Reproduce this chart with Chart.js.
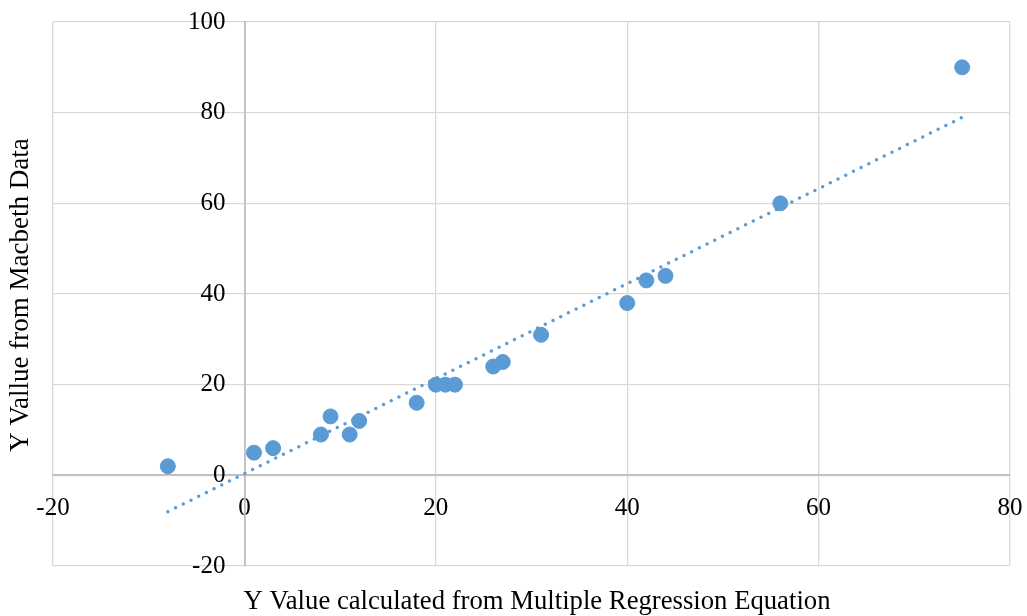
<!DOCTYPE html>
<html>
<head>
<meta charset="utf-8">
<script src="https://cdn.jsdelivr.net/npm/chart.js@4/dist/chart.umd.min.js"></script>
<style>
  body { margin: 0; background: #fff; }
  canvas { display: block; }
</style>
</head>
<body>
<canvas id="myChart" width="1027" height="616"></canvas>
<script>
// values
const calcX = [-8, 1, 3, 8, 9, 11, 12, 18, 20, 21, 22, 26, 27, 31, 40, 42, 44, 56, 75];
const macbethY = [2, 5, 6, 9, 13, 9, 12, 16, 20, 20, 20, 24, 25, 31, 38, 43, 44, 60, 90];
const xTicks = [-20, 0, 20, 40, 60, 80];
const yTicks = [-20, 0, 20, 40, 60, 80, 100];
const xTitle = 'Y Value calculated from Multiple Regression Equation';
const yTitle = 'Y Vallue from Macbeth Data';

const blue = '#5b9bd5';
const serif = "'Liberation Serif', 'DejaVu Serif', serif";

// linear trendline (least squares), like the spreadsheet does
const n = calcX.length;
const mx = calcX.reduce((a, b) => a + b, 0) / n;
const my = macbethY.reduce((a, b) => a + b, 0) / n;
let sxy = 0, sxx = 0;
for (let i = 0; i < n; i++) {
  sxy += (calcX[i] - mx) * (macbethY[i] - my);
  sxx += (calcX[i] - mx) * (calcX[i] - mx);
}
const slope = sxy / sxx;
const icpt = my - slope * mx;
const xMin = Math.min(...calcX), xMax = Math.max(...calcX);
const trend = [xMin, xMax].map(x => ({x: x, y: slope * x + icpt}));

const points = calcX.map((x, i) => ({x: x, y: macbethY[i]}));

// keep tick labels from pushing the plot area around
const noPad = s => { s.paddingLeft = s.paddingRight = s.paddingTop = s.paddingBottom = 0; };

const titlePlugin = {
  id: 'axisTitles',
  beforeDraw(chart) {
    // y labels sit left of the x=0 axis, not on it
    const items = chart.scales.y.getLabelItems();
    if (!chart.$shifted) {
      items.forEach(it => { it.options.translation[0] -= 19; });
      chart.$shifted = true;
    }
  },
  afterDraw(chart) {
    const c = chart.ctx;
    c.save();
    c.fillStyle = '#000';
    c.textAlign = 'center';
    c.textBaseline = 'middle';
    c.font = '26.7px ' + serif;
    c.fillText(xTitle, 537, 602);
    c.font = '27px ' + serif;
    c.translate(21, 295);
    c.rotate(-Math.PI / 2);
    c.fillText(yTitle, 0, 0);
    c.restore();
  }
};

const ctx = document.getElementById('myChart').getContext('2d');
new Chart(ctx, {
  type: 'scatter',
  data: {
    datasets: [{
      label: 'Macbeth',
      data: points,
      backgroundColor: blue,
      borderColor: blue,
      pointRadius: 7.5,
      pointHoverRadius: 7.5,
      order: 1
    }, {
      label: 'Trend',
      type: 'line',
      data: trend,
      borderColor: blue,
      borderWidth: 3.5,
      borderDash: [0, 8.6],
      borderCapStyle: 'round',
      pointRadius: 0,
      fill: false,
      order: 2
    }]
  },
  options: {
    responsive: false,
    animation: false,
    events: [],
    layout: { padding: { left: 53, top: 22, right: 17, bottom: 50 } },
    plugins: {
      legend: { display: false },
      tooltip: { enabled: false }
    },
    scales: {
      x: {
        type: 'linear',
        position: { y: 0 },
        min: -20,
        max: 80,
        afterBuildTicks: s => { s.ticks = xTicks.map(v => ({value: v})); },
        afterFit: noPad,
        grid: { color: '#d9d9d9', lineWidth: 1.3, drawTicks: false },
        border: { color: '#bfbfbf', width: 1.8 },
        ticks: { color: '#000', font: { family: serif, size: 25 }, padding: 18, maxRotation: 0 }
      },
      y: {
        type: 'linear',
        position: { x: 0 },
        min: -20,
        max: 100,
        afterBuildTicks: s => { s.ticks = yTicks.map(v => ({value: v})); },
        afterFit: noPad,
        grid: { color: '#d9d9d9', lineWidth: 1.3, drawTicks: false },
        border: { color: '#bfbfbf', width: 1.8 },
        ticks: { color: '#000', font: { family: serif, size: 25 } }
      }
    }
  },
  plugins: [titlePlugin]
});
</script>
</body>
</html>
